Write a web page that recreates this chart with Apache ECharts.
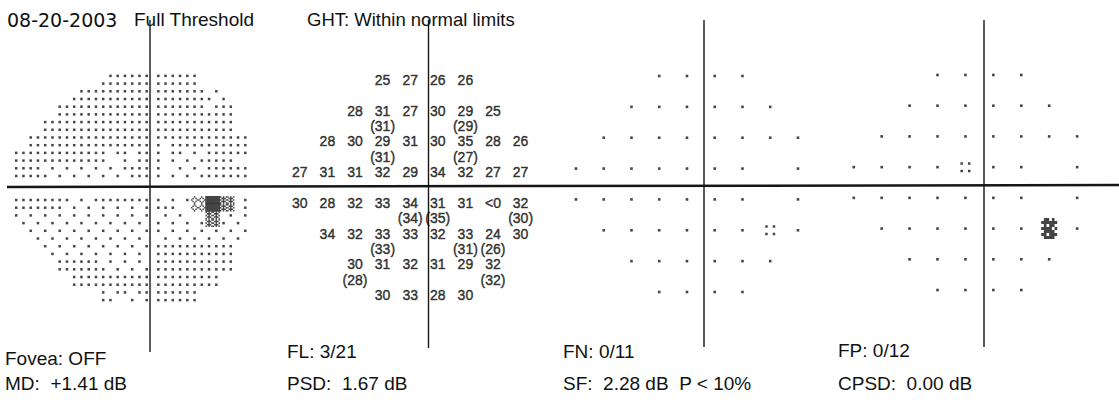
<!DOCTYPE html>
<html><head><meta charset="utf-8">
<script src="https://cdn.jsdelivr.net/npm/echarts@6/dist/echarts.min.js"></script>
<style>html,body{margin:0;padding:0;background:#fff}#c{width:1119px;height:400px}</style>
</head><body><div id="c"></div>
<script>
// ---------------- data ----------------
const headerTexts = ['08-20-2003', 'Full Threshold', 'GHT: Within normal limits'];
const footerLine1 = ['Fovea: OFF', 'FL: 3/21', 'FN: 0/11', 'FP: 0/12'];
const footerLine2 = ['MD:  +1.41 dB', 'PSD:  1.67 dB', 'SF:  2.28 dB  P < 10%', 'CPSD:  0.00 dB'];

// test locations (degrees)
const columnsDeg = [-27, -21, -15, -9, -3, 3, 9, 15, 21];
const rowsDeg = [21, 15, 9, 3, -3, -9, -15, -21];

// threshold values (dB), null = not tested
const thresholds = [
  [null, null, null, 25, 27, 26, 26, null, null],
  [null, null, 28, 31, 27, 30, 29, 25, null],
  [null, 28, 30, 29, 31, 30, 35, 28, 26],
  [27, 31, 31, 32, 29, 34, 32, 27, 27],
  [30, 28, 32, 33, 34, 31, 31, '<0', 32],
  [null, 34, 32, 33, 33, 32, 33, 24, 30],
  [null, null, 30, 31, 32, 31, 29, 32, null],
  [null, null, null, 30, 33, 28, 30, null, null]
];
// repeated measurements shown in parentheses
const repeats = [
  [null, null, null, null, null, null, null, null, null],
  [null, null, null, 31, null, null, 29, null, null],
  [null, null, null, 31, null, null, 27, null, null],
  [null, null, null, null, null, null, null, null, null],
  [null, null, null, null, 34, 35, null, null, 30],
  [null, null, null, 33, null, null, 31, 26, null],
  [null, null, 28, null, null, null, null, 32, null],
  [null, null, null, null, null, null, null, null, null]
];

// probability plots: '.' normal, ':' p<5%, '%' p<1%, ' ' none
const totalDeviation = [
  '   ....  ',
  '  ...... ',
  ' ........',
  '....... .',
  '....... .',
  ' ......:.',
  '  ...... ',
  '   ....  '
];
const patternDeviation = [
  '   ....  ',
  '  ...... ',
  ' ........',
  '....:.. .',
  '....... .',
  ' ......%.',
  '  ...... ',
  '   ....  '
];

// greyscale: "left|right" per raster row; left is right-aligned (last char next to the vertical meridian)
// '.' dot, 'x' dense hatch, 'o' light hatch, '#' black
const greyUpper = [
  '......|......',
  '.......|......',
  '..........|....... .',
  '...........|........ .',
  '.............|....... ...',
  '.............|...........',
  '...............|...........',
  '...............|...........',
  '.................|.............',
  '.................|. ...........',
  '............. .. ..|. .. . ......',
  '.............  . ..|. . . .....',
  '.... . . . . . ....|.  . . ......',
  '..... . . . . . ...|. . . .......'
];
const greyLower = [
  '........ . ........|. . .oo##xx .',
  '....... . . . . . .|...  oo##xx .',
  '. . . . . . . . . .| . .   xx . .',
  ' . . . . . . . . . |. . . .xx. . ',
  '  . . . . . . . . .|. . . . . . .',
  '   . . . . . . . . | . . . . . . ',
  '    . . . . . . . .|...........',
  '     . . . . . . . |...........',
  '      ...... . . . |...........',
  '      ....... . . .|...........',
  '        ...........|.........',
  '        ...........|.........',
  '. .. ..|......',
  '..  . .|......'
];

// ---------------- build ----------------
function latticeX(side, k) { return side === 'L' ? -(k + 0.8) : (k + 0.8); }
function buildGrey() {
  const out = { '.': [], 'x': [], 'o': [], '#': [] };
  const addRow = (row, y) => {
    const [l, r] = row.split('|');
    for (let j = 0; j < l.length; j++) { const c = l[j]; if (out[c]) out[c].push([latticeX('L', l.length - 1 - j), y]); }
    for (let j = 0; j < r.length; j++) { const c = r[j]; if (out[c]) out[c].push([latticeX('R', j), y]); }
  };
  greyUpper.forEach((row, i) => addRow(row, (greyUpper.length - 1 - i) + 1.56));
  greyLower.forEach((row, i) => addRow(row, -(i + 1.56)));
  return out;
}
function buildProb(rows) {
  const out = { '.': [], ':': [], '%': [] };
  rows.forEach((s, i) => { for (let j = 0; j < s.length; j++) { const c = s[j]; if (out[c]) out[c].push([columnsDeg[j], rowsDeg[i]]); } });
  return out;
}
function buildNumbers(table, wrap) {
  const d = [];
  table.forEach((row, i) => row.forEach((v, j) => {
    if (v !== null) d.push({ name: wrap ? '(' + v + ')' : String(v), value: [columnsDeg[j], rowsDeg[i]] });
  }));
  return d;
}
function patternPath(rows) {
  let p = 'path://';
  rows.forEach((s, r) => { for (let c = 0; c < s.length; c++) if (s[c] === 'X') p += 'M' + c + ',' + r + 'h1v1h-1z'; });
  return p;
}
const grey = buildGrey();
const td = buildProb(totalDeviation);
const pd = buildProb(patternDeviation);

const INK = '#161616';
const hatchPath = patternPath(['X.X.X', '.XXX.', 'X.X.X', '.XXX.', 'X.X.X']);
const lightPath = patternPath(['..X..', '.X.X.', 'X...X', '.X.X.', '..X..']);
const fourDotPath = 'path://M0,0h2v2h-2zM6,0h2v2h-2zM0,6h2v2h-2zM6,6h2v2h-2z';
const p1Path = patternPath(['.XX.X.', 'XXXXXX', '.X.XX.', 'XXXX.X', '.XXXX.', 'XX.XXX', '.XXXX.']);

const numFont = {
  fontFamily: '"Liberation Sans", Arial, sans-serif', fontSize: 14, lineHeight: 12, color: '#0a0a0a',
  textBorderColor: '#0a0a0a', textBorderWidth: 0.45
};
const sans = '"Liberation Sans", Arial, sans-serif';

function scatter(gi, data, symbol, size, extra) {
  return Object.assign({
    type: 'scatter', xAxisIndex: gi, yAxisIndex: gi, data: data, symbol: symbol, symbolSize: size,
    itemStyle: { color: INK }, silent: true, animation: false, emphasis: { disabled: true }
  }, extra || {});
}
function numberSeries(data, offsetY) {
  return scatter(1, data, 'rect', 1, {
    itemStyle: { color: 'rgba(0,0,0,0)' },
    label: Object.assign({ show: true, position: 'inside', offset: [0, offsetY], formatter: p => p.name }, numFont)
  });
}
function txt(x, y, text, font) {
  return { type: 'text', x: x, y: y, silent: true, style: { text: text, font: font, fill: '#111', verticalAlign: 'middle' } };
}

const hiddenAxis = (min, max) => ({ type: 'value', min: min, max: max, show: false, splitLine: { show: false } });

const option = {
  backgroundColor: '#ffffff',
  animation: false,
  grid: [
    { left: 7.5, top: 64.8, width: 246.5, height: 246.4 },
    { left: 286, top: 64.6, width: 276, height: 245.8 },
    { left: 562.1, top: 60.6, width: 277.5, height: 246.8 },
    { left: 839.8, top: 59.6, width: 282.6, height: 245.8 }
  ],
  xAxis: [
    Object.assign({ gridIndex: 0 }, hiddenAxis(-20, 14)),
    Object.assign({ gridIndex: 1 }, hiddenAxis(-30, 30)),
    Object.assign({ gridIndex: 2 }, hiddenAxis(-30, 30)),
    Object.assign({ gridIndex: 3 }, hiddenAxis(-30, 30))
  ],
  yAxis: [
    Object.assign({ gridIndex: 0 }, hiddenAxis(-16, 16)),
    Object.assign({ gridIndex: 1 }, hiddenAxis(-24, 24)),
    Object.assign({ gridIndex: 2 }, hiddenAxis(-24, 24)),
    Object.assign({ gridIndex: 3 }, hiddenAxis(-24, 24))
  ],
  series: [
    scatter(0, grey['.'], 'rect', 2.5),
    scatter(0, grey['x'], hatchPath, [7.25, 7.7]),
    scatter(0, grey['o'], lightPath, [7.25, 7.7]),
    scatter(0, grey['#'], 'rect', [7.6, 8.1]),
    numberSeries(buildNumbers(thresholds, false), 0),
    numberSeries(buildNumbers(repeats, true), 15.3),
    scatter(2, td['.'], 'rect', 2.6),
    scatter(2, td[':'], fourDotPath, 10),
    scatter(3, pd['.'], 'rect', 2.6),
    scatter(3, pd[':'], fourDotPath, 10),
    scatter(3, pd['%'], p1Path, [16, 21])
  ],
  graphic: [
    { type: 'line', shape: { x1: 7, y1: 187, x2: 1119, y2: 185 }, style: { stroke: INK, lineWidth: 2.5 }, silent: true },
    { type: 'line', shape: { x1: 150, y1: 20, x2: 150, y2: 352 }, style: { stroke: INK, lineWidth: 1.4 }, silent: true },
    { type: 'line', shape: { x1: 428.5, y1: 20, x2: 428.5, y2: 348 }, style: { stroke: INK, lineWidth: 1.4 }, silent: true },
    { type: 'line', shape: { x1: 704, y1: 20, x2: 704, y2: 347 }, style: { stroke: INK, lineWidth: 1.4 }, silent: true },
    { type: 'line', shape: { x1: 984, y1: 20, x2: 984, y2: 347 }, style: { stroke: INK, lineWidth: 1.4 }, silent: true },
    txt(7, 19.5, headerTexts[0], '19px "DejaVu Sans", sans-serif'),
    txt(134, 19.5, headerTexts[1], '19px ' + sans),
    txt(307, 19.5, headerTexts[2], '18.5px ' + sans),
    txt(5, 358.5, footerLine1[0], '19px ' + sans),
    txt(287, 351, footerLine1[1], '19px ' + sans),
    txt(563, 351, footerLine1[2], '19px ' + sans),
    txt(838, 350, footerLine1[3], '19px ' + sans),
    txt(5, 383.5, footerLine2[0], '19px ' + sans),
    txt(287, 383.5, footerLine2[1], '19px ' + sans),
    txt(563, 383.5, footerLine2[2], '19px ' + sans),
    txt(838, 383.5, footerLine2[3], '19px ' + sans)
  ]
};
const chart = echarts.init(document.getElementById('c'), null, { renderer: 'svg' });
chart.setOption(option);
</script>
</body></html>
